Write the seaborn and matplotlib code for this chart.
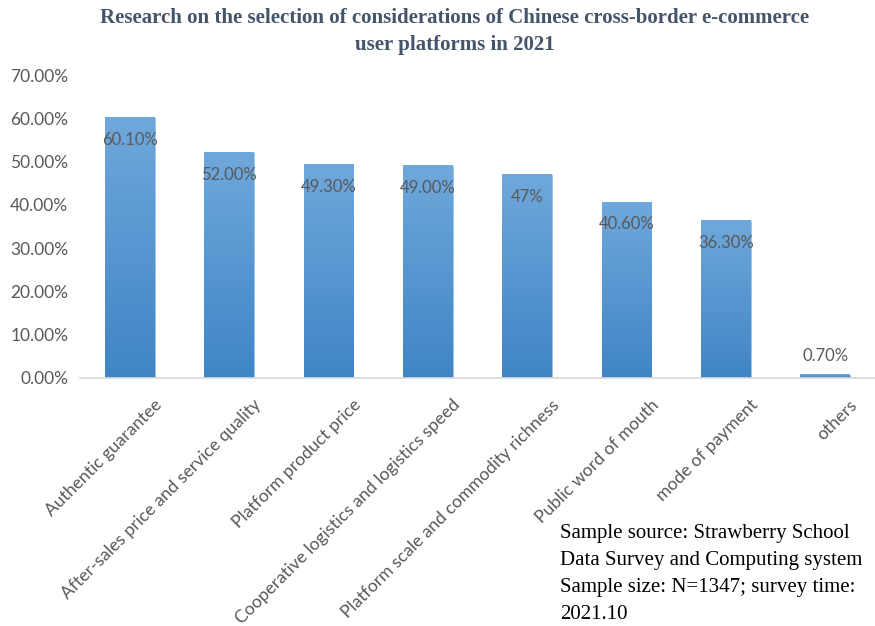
import numpy as np
import pandas as pd
import matplotlib
matplotlib.use("Agg")
import matplotlib.pyplot as plt
import matplotlib.transforms as mtransforms
from matplotlib.colors import LinearSegmentedColormap
import seaborn as sns

categories = ["Authentic guarantee", "After-sales price and service quality",
              "Platform product price", "Cooperative logistics and logistics speed",
              "Platform scale and commodity richness", "Public word of mouth",
              "mode of payment", "others"]
values = [0.601, 0.520, 0.493, 0.490, 0.470, 0.406, 0.363, 0.007]
value_labels = ["60.10%", "52.00%", "49.30%", "49.00%", "47%", "40.60%", "36.30%", "0.70%"]
yticks = [0.0, 0.1, 0.2, 0.3, 0.4, 0.5, 0.6, 0.7]
ytick_labels = ["0.00%", "10.00%", "20.00%", "30.00%", "40.00%", "50.00%", "60.00%", "70.00%"]
title = "Research on the selection of considerations of Chinese cross-border e-commerce\nuser platforms in 2021"
note = "Sample source: Strawberry School\nData Survey and Computing system\nSample size: N=1347; survey time:\n2021.10"

sns.set_theme(style="white")
plt.rcParams['font.family'] = ['Lato', 'DejaVu Sans']

df = pd.DataFrame({"category": categories, "value": values})

fig = plt.figure(figsize=(8.75, 6.26), dpi=100)
ax = fig.add_axes([80/875, 1-378/626, 795/875, (378-75)/626])

sns.barplot(data=df, x="category", y="value", color="#5b9bd5", width=0.5, ax=ax,
            edgecolor="#9dc3e6", linewidth=0.6, zorder=2)

# gradient fill per bar
cmap = LinearSegmentedColormap.from_list("g", ["#3f85c5", "#6fa8dc"])
grad = np.linspace(0, 1, 256).reshape(-1, 1)
for p in ax.patches:
    x0, y0 = p.get_x(), p.get_y()
    w, h = p.get_width(), p.get_height()
    ax.imshow(grad, cmap=cmap, origin="lower", aspect="auto",
              extent=(x0, x0 + w, y0, y0 + h), zorder=2.5)
ax.set_xlim(-0.5, len(categories) - 0.5)
ax.set_ylim(0, 0.70)

for p, lab, v in zip(ax.patches, value_labels, values):
    cx = p.get_x() + p.get_width() / 2
    dy = -16 if v > 0.1 else 14
    ax.annotate(lab, (cx, v), xytext=(0, dy), textcoords="offset points",
                ha="center", va="center", fontsize=12, color="#595959", zorder=4)

ax.set_yticks(yticks)
ax.set_yticklabels(ytick_labels, fontsize=12.5, color="#595959")
ax.tick_params(axis="y", length=0, pad=8.5)
ax.tick_params(axis="x", length=0)
ax.set_xlabel("")
ax.set_ylabel("")

offset = mtransforms.ScaledTranslation(24/100, -14/100, fig.dpi_scale_trans)
ax.set_xticks(range(len(categories)))
ax.set_xticklabels(categories, rotation=45, ha="right", rotation_mode="anchor",
                   fontsize=12.6, color="#595959")
for t in ax.get_xticklabels():
    t.set_transform(t.get_transform() + offset)

for s in ["top", "right", "left"]:
    ax.spines[s].set_visible(False)
ax.spines["bottom"].set_color("#d9d9d9")
ax.spines["bottom"].set_linewidth(1.2)
ax.grid(False)

fig.text(455/875, 1-31.5/626, title, ha="center", va="center", fontsize=15,
         fontweight="bold", color="#44546a", family=["Liberation Serif", "DejaVu Serif"],
         linespacing=1.5)
fig.text(560/875, 1-574/626, note, ha="left", va="center", fontsize=15,
         color="#000000", family=["Liberation Serif", "DejaVu Serif"], linespacing=1.55)

fig.savefig("out.png", dpi=100)
